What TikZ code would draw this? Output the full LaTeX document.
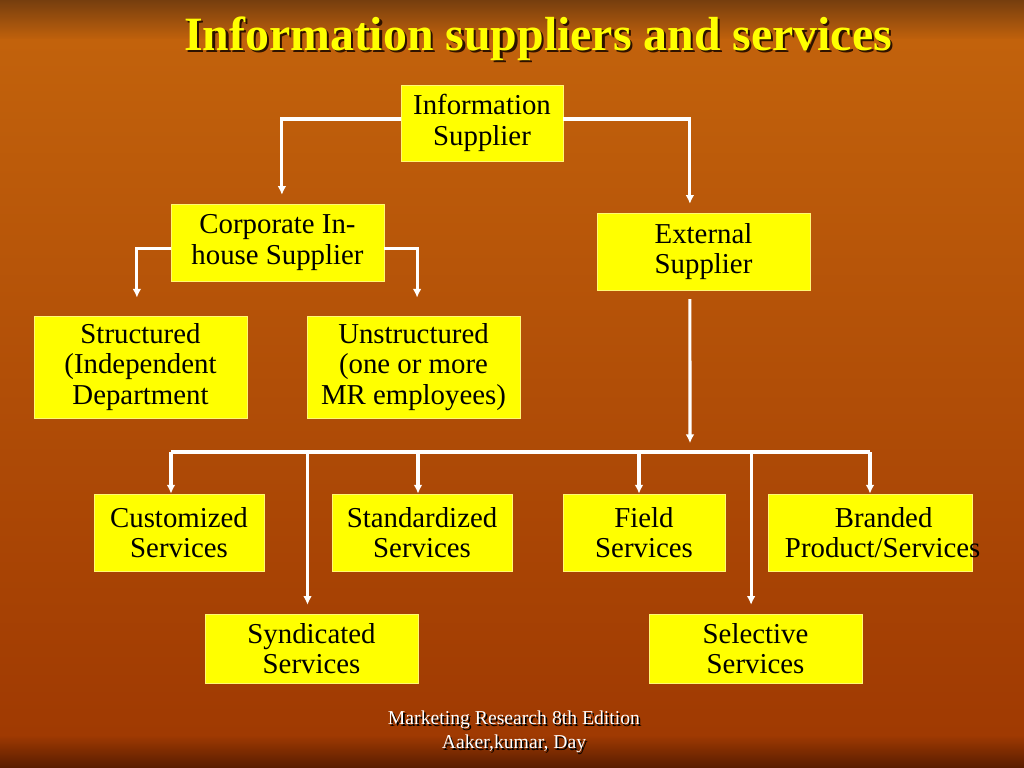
\documentclass[tikz,border=0pt]{standalone}
\usepackage{fontspec}
\setmainfont{Liberation Serif}
\usetikzlibrary{arrows.meta}

\definecolor{bgtop}{RGB}{118,62,14}
\definecolor{bgorange}{RGB}{194,98,12}
\definecolor{bgmid}{RGB}{180,78,4}
\definecolor{bglow}{RGB}{160,58,2}
\definecolor{bgbottom}{RGB}{88,28,0}
\definecolor{boxyellow}{RGB}{255,255,0}
\definecolor{shadowbrown}{RGB}{45,18,0}

% text with a drop shadow: text, shadow colour, offset
\newcommand{\shadowed}[3]{\makebox[0pt][l]{\hspace{#3}\raisebox{-#3}{\color{#2}#1}}#1}

\tikzset{
  supbox/.style={fill=boxyellow, draw=yellow!55!white, line width=0.5pt,
    align=center, inner sep=0pt, font=\fontsize{20.5}{21.5}\selectfont},
  link/.style={draw=white, line width=2.2pt, -{Latex[length=0.22cm,width=0.22cm]}},
  bar/.style={draw=white, line width=2.2pt},
}

\begin{document}
\begin{tikzpicture}[x=0.025cm,y=-0.025cm]
  \useasboundingbox (0,0) rectangle (1024,768);

  % Background
  \shade [top color=bgtop, bottom color=bgorange] (0,0) rectangle (1024,40);
  \shade [top color=bgorange, middle color=bgmid, bottom color=bglow] (0,40) rectangle (1024,735);
  \shade [top color=bglow, bottom color=bgbottom] (0,735) rectangle (1024,768);

  % Title
  \node (title) [text=boxyellow, font=\fontsize{34}{40}\selectfont\bfseries] at (538,40)
    {\shadowed{Information suppliers and services}{shadowbrown}{0.06cm}};

  % Suppliers
  \node (info) [supbox, minimum width=4.05cm, minimum height=1.9cm] at (482,123) {Information\\Supplier};
  \node (corp) [supbox, minimum width=5.325cm, minimum height=1.925cm] at (277.5,242.5) {Corporate In-\\house Supplier};
  \node (ext) [supbox, minimum width=5.325cm, minimum height=1.925cm] at (703.5,251.5) {External\\Supplier};
  \node (struct) [supbox, minimum width=5.325cm, minimum height=2.55cm] at (140.5,367) {Structured\\(Independent\\Department};
  \node (unstr) [supbox, minimum width=5.325cm, minimum height=2.55cm] at (413.5,367) {Unstructured\\(one or more\\MR employees)};

  % Services
  \node (cust) [supbox, minimum width=4.25cm, minimum height=1.925cm] at (179,532.5) {Customized\\Services};
  \node (stand) [supbox, minimum width=4.5cm, minimum height=1.925cm] at (422,532.5) {Standardized\\Services};
  \node (field) [supbox, minimum width=4.05cm, minimum height=1.925cm] at (644,532.5) {Field\\Services};
  \node (brand) [supbox, minimum width=5.1cm, minimum height=1.925cm, text width=4.25cm] at (870,532.5)
    {\makebox[4.25cm][l]{\makebox[4.93cm]{Branded}}\\\makebox[4.25cm][l]{Product/Services}};
  \node (synd) [supbox, minimum width=5.325cm, minimum height=1.725cm] at (311.5,648.5) {Syndicated\\Services};
  \node (sel) [supbox, minimum width=5.325cm, minimum height=1.725cm] at (755.5,648.5) {Selective\\Services};

  % Footer
  \node (footer) [text=white, font=\fontsize{14}{17}\selectfont, align=center] at (514,733)
    {\shadowed{Marketing Research 8th Edition}{black}{0.04cm}\\\shadowed{Aaker,kumar, Day}{black}{0.04cm}};

  % Information supplier to its two kinds
  \draw [link, shorten >=0.22cm] ([yshift=0.1cm]info.west) -| ([xshift=0.11cm]corp.north);
  \draw [link, shorten >=0.22cm] ([yshift=0.1cm]info.east) -| ([xshift=-0.34cm]ext.north);

  % In-house branches
  \draw [link, shorten >=0.45cm] ([yshift=-0.14cm]corp.west) -| ([xshift=-0.09cm]struct.north);
  \draw [link, shorten >=0.45cm] ([yshift=-0.14cm]corp.east) -| ([xshift=0.09cm]unstr.north);

  % External supplier down to the services bus
  \coordinate (bus) at (690,452);
  \draw [link, shorten <=0.22cm, shorten >=0.22cm] ([xshift=-0.34cm]ext.south) -- (bus);
  \draw [bar] ([xshift=-0.2cm]cust.north |- bus) -- (brand.north |- bus);
  \foreach \b/\dx/\gap in {cust/-0.2/0, synd/-0.1/0.22, stand/-0.1/0, field/-0.125/0, sel/-0.11/0.22, brand/0/0}
    \draw [link, shorten >=\gap cm] ([xshift=\dx cm]\b.north |- bus) -- ([xshift=\dx cm]\b.north);
\end{tikzpicture}
\end{document}
